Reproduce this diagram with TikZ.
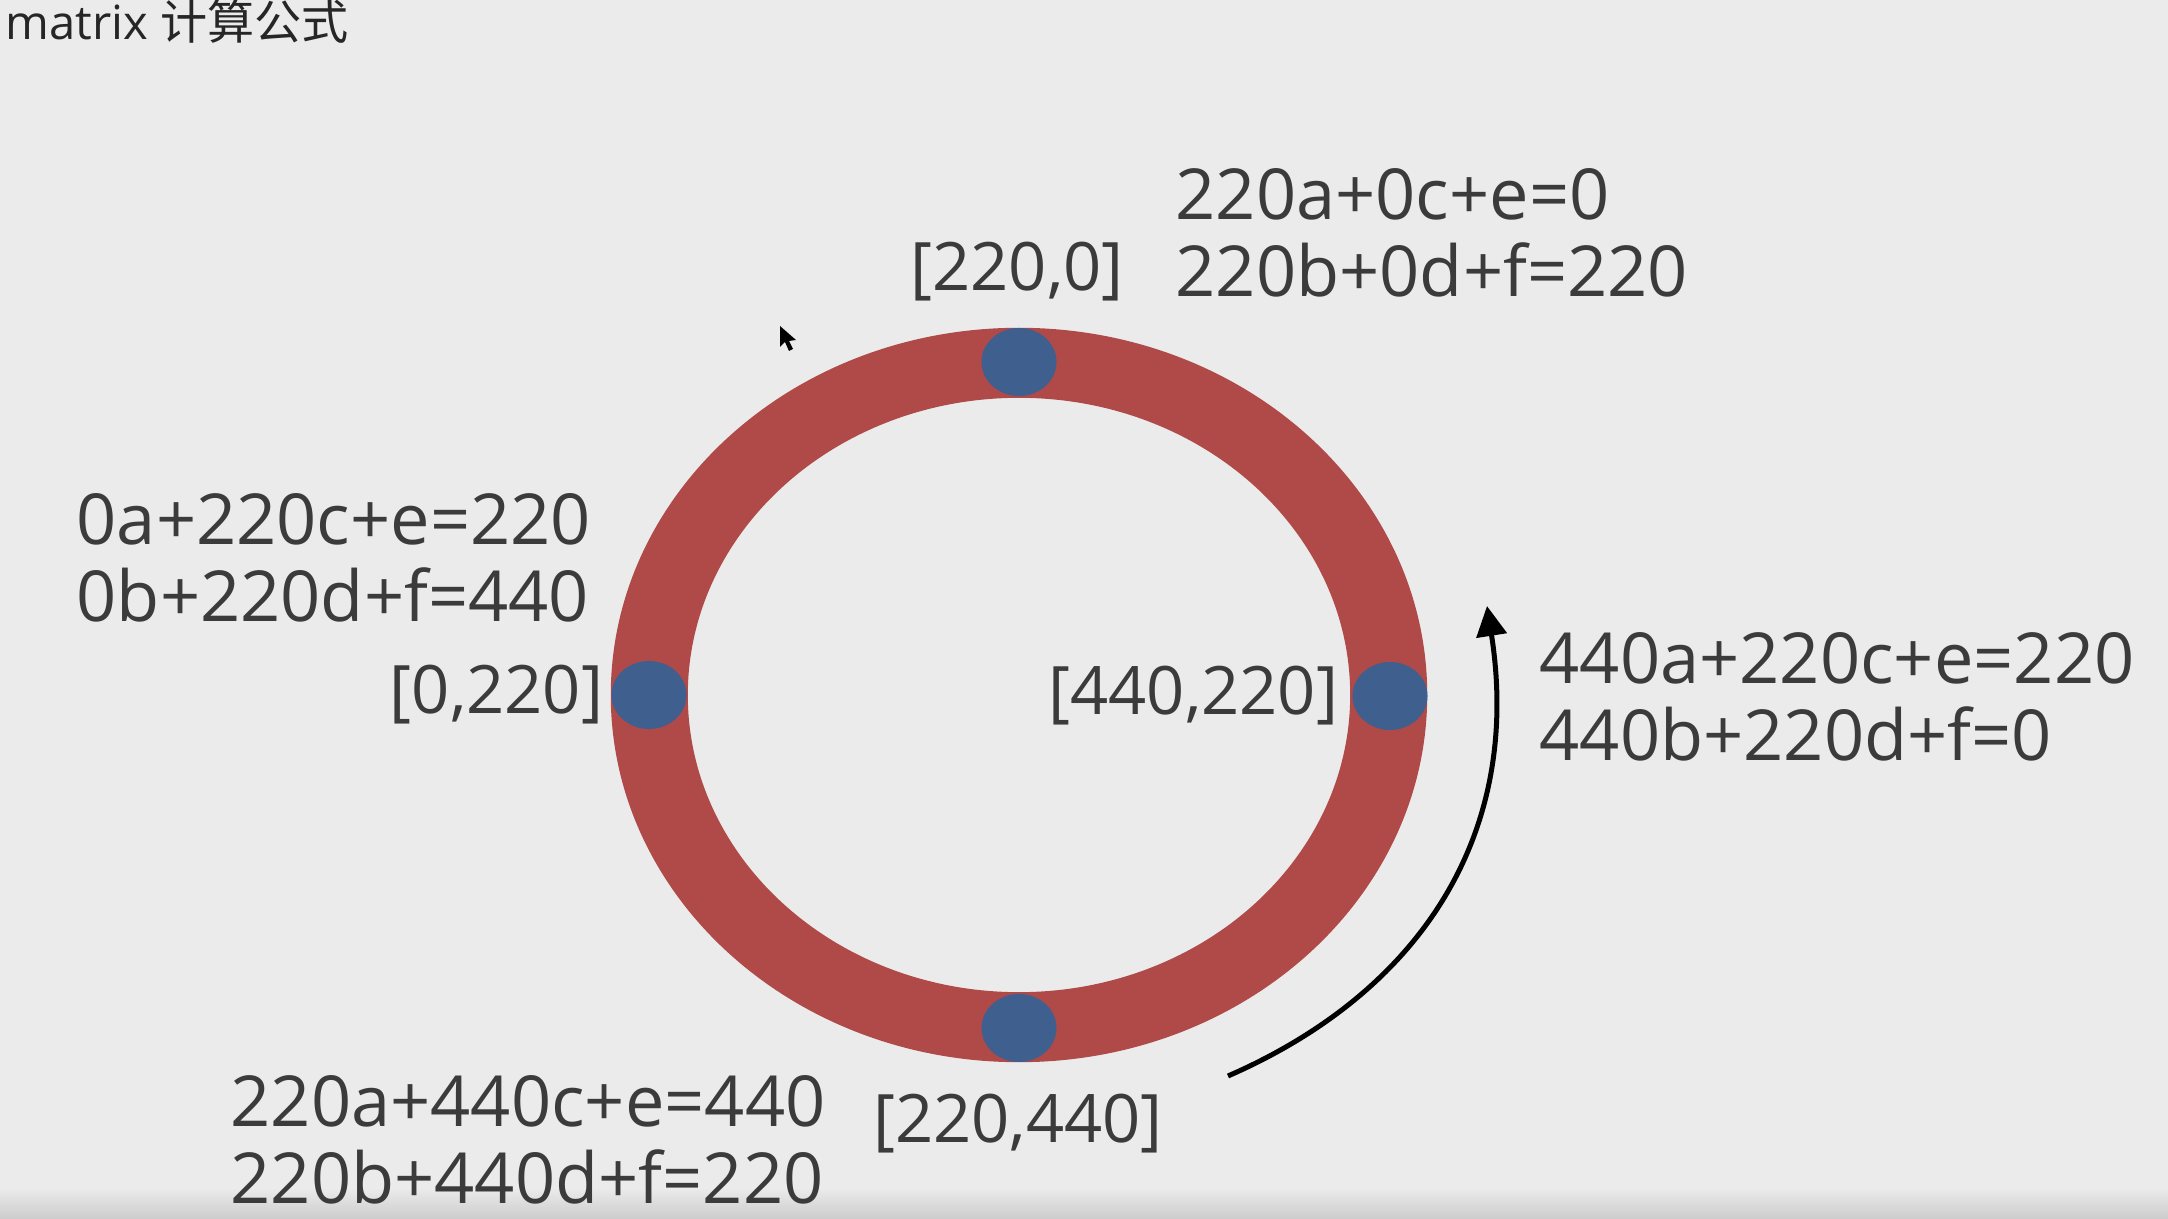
\documentclass[tikz,border=0pt]{standalone}
\usepackage{fontspec}
\setmainfont{Open Sans}
\newfontfamily\cjkfont{Noto Sans CJK SC}
\usetikzlibrary{shapes.geometric, arrows.meta, positioning}
\definecolor{slidebg}{HTML}{EBEBEB}
\definecolor{ringred}{HTML}{AF4A48}
\definecolor{dotblue}{HTML}{3F5F8F}
\definecolor{labelgray}{HTML}{3B3B3B}
\tikzstyle{title} = [text=black!85, font=\fontsize{13.4}{15}\selectfont, inner sep=0pt]
\tikzstyle{formula} = [
  text=labelgray, align=left, inner sep=0pt,
  font=\fontsize{20}{21.9}\selectfont
]
\tikzstyle{coord} = [formula, align=center, font=\fontsize{19}{21.9}\selectfont]
\tikzstyle{dot} = [
  ellipse, fill=dotblue, draw=none, inner sep=0pt,
  minimum width=0.75cm, minimum height=0.68cm
]
\tikzstyle{arrow} = [-{Triangle[length=0.3cm, width=0.3cm]}, line width=0.05cm]

\begin{document}
\begin{tikzpicture}[x=0.01cm, y=-0.01cm]

  \fill[slidebg] (0,0) rectangle (2168,1219);
  \useasboundingbox (0,0) rectangle (2168,1219);
  \shade[top color=slidebg, bottom color=black!20] (0,1188) rectangle (2168,1219);

  \node[title, anchor=west] (title) at (5,22) {matrix {\cjkfont 计算公式}};

  % ring and the four points on it
  \fill[ringred, even odd rule]
    (1019,695) ellipse [x radius=4.08cm, y radius=3.67cm]
    (1019,695) ellipse [x radius=3.31cm, y radius=2.97cm];

  \node[dot] (ptop) at (1019,362) {};
  \node[dot] (pleft) at (649,695) {};
  \node[dot] (pright) at (1390,696) {};
  \node[dot] (pbottom) at (1019,1028) {};

  \node[coord] (ctop) at (1017,272) {[220,0]};
  \node[coord, left=0.07cm of pleft] (cleft) {[0,220]};
  \node[coord, left=0.13cm of pright] (cright) {[440,220]};
  \node[coord] (cbottom) at (1018,1124) {[220,440]};

  \node[formula, anchor=west] (ftop) at (1175,233) {
    220a+0c+e=0\\
    220b+0d+f=220
  };
  \node[formula, anchor=west] (fleft) at (76,558) {
    0a+220c+e=220\\
    0b+220d+f=440
  };
  \node[formula, anchor=west] (fright) at (1539,697) {
    440a+220c+e=220\\
    440b+220d+f=0
  };
  \node[formula, anchor=west] (fbottom) at (230,1140) {
    220a+440c+e=440\\
    220b+440d+f=220
  };

  % rotation arrow
  \coordinate (arrstart) at (1228,1076);
  \coordinate (arrtip) at (1487,606);
  \draw[arrow] (arrstart) .. controls (1425,990) and (1522,830) .. (arrtip);

  % mouse pointer
  \fill[black] (780,326) -- (780,347) -- (785,342) -- (789,351) -- (793,349)
    -- (789,341) -- (796,340) -- cycle;

\end{tikzpicture}
\end{document}
